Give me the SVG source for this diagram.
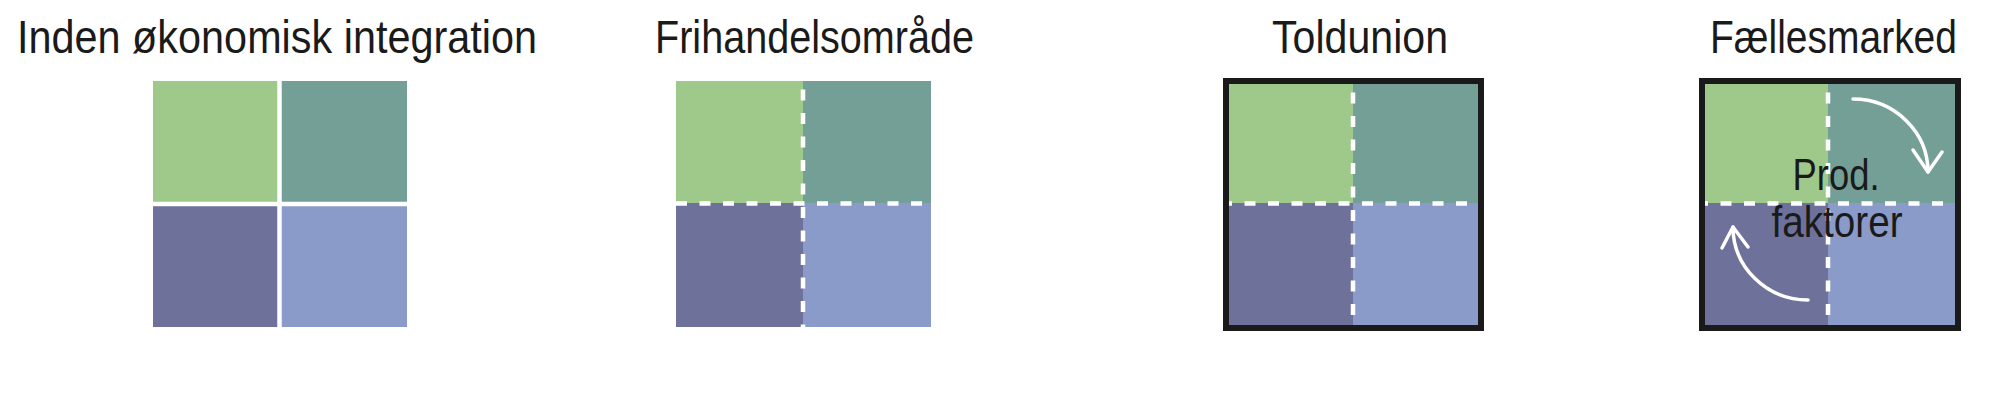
<svg xmlns="http://www.w3.org/2000/svg" width="2000" height="404" viewBox="0 0 2000 404">
  <style>
    .title { font-family: "Liberation Sans", Arial, sans-serif; font-size: 46px; fill: #1a1a1a; }
    .label { font-family: "Liberation Sans", Arial, sans-serif; font-size: 44px; fill: #1a1a1a; text-anchor: middle; }
    .g1 { fill: #9ec98b; }
    .g2 { fill: #749f97; }
    .b1 { fill: #6e7199; }
    .b2 { fill: #8a9bc9; }
    .gap { stroke: #ffffff; stroke-width: 4.5; fill: none; }
    .dash { stroke: #ffffff; stroke-width: 4.5; fill: none; stroke-dasharray: 11 12.5; }
    .frame { fill: none; stroke: #1a1a1a; stroke-width: 6; }
    .flow { fill: none; stroke: #ffffff; stroke-width: 3.5; stroke-linecap: round; stroke-linejoin: round; }
  </style>

  <g id="node-inden">
    <text class="title" x="17" y="53" textLength="520" lengthAdjust="spacingAndGlyphs">Inden økonomisk integration</text>
    <rect class="g1" x="153" y="81" width="127" height="123"/>
    <rect class="g2" x="280" y="81" width="127" height="123"/>
    <rect class="b1" x="153" y="204" width="127" height="123"/>
    <rect class="b2" x="280" y="204" width="127" height="123"/>
    <line class="gap" x1="279.5" y1="81" x2="279.5" y2="327"/>
    <line class="gap" x1="153" y1="204" x2="407" y2="204"/>
  </g>

  <g id="node-frihandel">
    <text class="title" x="655" y="53" textLength="319" lengthAdjust="spacingAndGlyphs">Frihandelsområde</text>
    <rect class="g1" x="676" y="81" width="127" height="122"/>
    <rect class="g2" x="803" y="81" width="128" height="122"/>
    <rect class="b1" x="676" y="203" width="127" height="124"/>
    <rect class="b2" x="803" y="203" width="128" height="124"/>
    <line class="dash" x1="803" y1="81" x2="803" y2="327" stroke-dashoffset="15"/>
    <line class="dash" x1="676" y1="203.5" x2="931" y2="203.5"/>
  </g>

  <g id="node-toldunion">
    <text class="title" x="1272" y="53" textLength="176" lengthAdjust="spacingAndGlyphs">Toldunion</text>
    <rect class="g1" x="1226" y="81" width="127" height="122"/>
    <rect class="g2" x="1353" y="81" width="128" height="122"/>
    <rect class="b1" x="1226" y="203" width="127" height="125"/>
    <rect class="b2" x="1353" y="203" width="128" height="125"/>
    <line class="dash" x1="1353" y1="84" x2="1353" y2="325" stroke-dashoffset="15"/>
    <line class="dash" x1="1229" y1="203.5" x2="1478" y2="203.5" stroke-dashoffset="8"/>
    <rect class="frame" x="1226" y="81" width="255" height="247"/>
  </g>

  <g id="node-faellesmarked">
    <text class="title" x="1710" y="53" textLength="247" lengthAdjust="spacingAndGlyphs">Fællesmarked</text>
    <rect class="g1" x="1702" y="81" width="126" height="122"/>
    <rect class="g2" x="1828" y="81" width="130" height="122"/>
    <rect class="b1" x="1702" y="203" width="126" height="125"/>
    <rect class="b2" x="1828" y="203" width="130" height="125"/>
    <line class="dash" x1="1828" y1="84" x2="1828" y2="325" stroke-dashoffset="15"/>
    <line class="dash" x1="1705" y1="203.5" x2="1955" y2="203.5" stroke-dashoffset="8"/>
    <rect class="frame" x="1702" y="81" width="256" height="247"/>
  </g>

  <g id="connectors">
    <path class="flow" d="M1853,99 A75,73 0 0 1 1928,172"/>
    <polyline class="flow" points="1913,150 1928,172 1942,152"/>
    <path class="flow" d="M1808,300 A75,73 0 0 1 1733,227"/>
    <polyline class="flow" points="1722,248 1733,227 1748,247"/>
  </g>

  <g id="label-prod">
    <text class="label" x="1836" y="190" textLength="87" lengthAdjust="spacingAndGlyphs">Prod.</text>
    <text class="label" x="1837" y="237" textLength="131" lengthAdjust="spacingAndGlyphs">faktorer</text>
  </g>
</svg>
